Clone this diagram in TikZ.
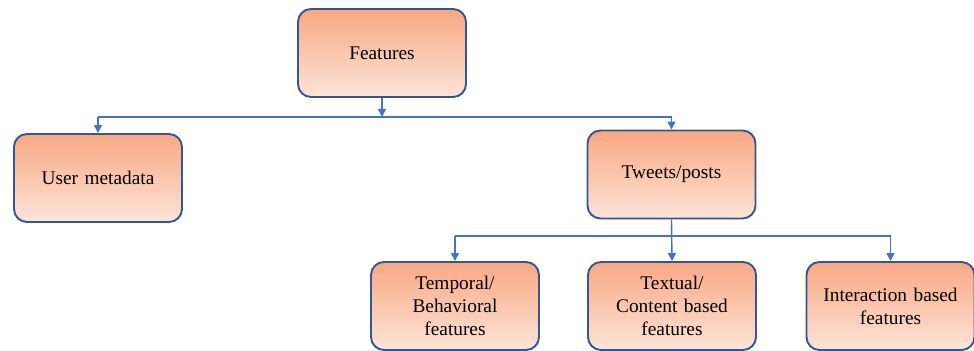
\documentclass[tikz,border=0pt]{standalone}
\usepackage{fontspec}
\setmainfont{Liberation Serif}
\usepackage{tikz}
\usetikzlibrary{arrows.meta}

\definecolor{boxtop}{RGB}{248,168,130}
\definecolor{boxbot}{RGB}{253,228,216}
\definecolor{boxline}{RGB}{52,86,150}
\definecolor{wire}{RGB}{68,114,196}

\begin{document}
\begin{tikzpicture}[
	featbox/.style={draw=boxline, line width=1.1pt, rounded corners=0.26cm,
		top color=boxtop, bottom color=boxbot, minimum width=3.36cm,
		minimum height=1.76cm, align=center, text width=3.1cm,
		font=\fontsize{11}{13}\selectfont},
	wireline/.style={draw=wire, line width=0.8pt},
	wirearrow/.style={wireline, -{Triangle[length=0.16cm, width=0.16cm]}}
	]
	\useasboundingbox (0,0) rectangle (19.48,7.02);
	\node[featbox] (feat)   at (7.64,5.96)  {Features};
	\node[featbox] (user)   at (1.96,3.46)  {User metadata};
	\node[featbox] (tweets) at (13.43,3.53) {Tweets/posts};
	\node[featbox] (temp)   at (9.10,0.90)  {Temporal/\\Behavioral\\features};
	\node[featbox] (text)   at (13.44,0.90) {Textual/\\Content based\\features};
	\node[featbox] (inter)  at (17.81,0.90) {Interaction based\\features};
	\coordinate (busA) at (0,4.68);
	\coordinate (busB) at (0,2.30);
	\draw[wirearrow] (feat.south) -- (feat.south |- busA);
	\draw[wireline] (user.north |- busA) -- (tweets.north |- busA);
	\draw[wirearrow] (user.north |- busA) -- (user.north);
	\draw[wirearrow] (tweets.north |- busA) -- (tweets.north);
	\draw[wirearrow] (tweets.south) -- (text.north);
	\draw[wireline] (temp.north |- busB) -- (inter.north |- busB);
	\draw[wirearrow] (temp.north |- busB) -- (temp.north);
	\draw[wirearrow] (inter.north |- busB) -- (inter.north);
\end{tikzpicture}
\end{document}
